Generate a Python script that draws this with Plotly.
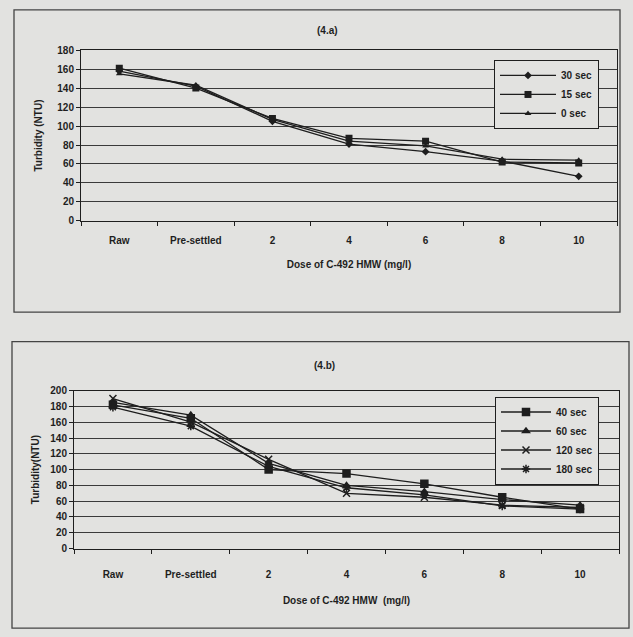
import plotly.graph_objects as go

categories = ["Raw", "Pre-settled", "2", "4", "6", "8", "10"]

# Panel (4.a)
a_30sec = [158, 142, 105, 81, 73, 63, 47]
a_15sec = [161, 140, 108, 87, 84, 62, 61]
a_0sec = [155, 143, 107, 84, 79, 65, 64]

# Panel (4.b)
b_40sec = [182, 165, 100, 95, 82, 65, 50]
b_60sec = [185, 169, 108, 80, 72, 62, 55]
b_120sec = [190, 160, 113, 70, 65, 55, 52]
b_180sec = [179, 155, 104, 77, 68, 54, 50]

W, H = 633, 637
BG = "#e2e2e0"
INK = "#1e1e1e"
FONT = dict(family="Liberation Sans, Arial", size=10, color=INK, weight="bold")
LFONT = dict(family="Liberation Sans, Arial", size=10, color=INK, weight="bold")


def px(x):
    return x / W


def py(y):
    return 1 - y / H


fig = go.Figure()

series_a = [
    ("30 sec", a_30sec, "diamond", 6),
    ("15 sec", a_15sec, "square", 7),
    ("0 sec", a_0sec, "triangle-up", 6),
]
for name, vals, sym, sz in series_a:
    fig.add_trace(go.Scatter(
        x=categories, y=vals, name=name, mode="lines+markers",
        line=dict(color=INK, width=1.3),
        marker=dict(symbol=sym, size=sz, color=INK),
        xaxis="x", yaxis="y", legend="legend"))

series_b = [
    ("40 sec", b_40sec, "square", 7),
    ("60 sec", b_60sec, "triangle-up", 6),
    ("120 sec", b_120sec, "x-thin-open", 7),
    ("180 sec", b_180sec, "asterisk-open", 7),
]
for name, vals, sym, sz in series_b:
    fig.add_trace(go.Scatter(
        x=categories, y=vals, name=name, mode="lines+markers",
        line=dict(color=INK, width=1.3),
        marker=dict(symbol=sym, size=sz, color=INK, line=dict(color=INK, width=1.5)),
        xaxis="x2", yaxis="y2", legend="legend2"))

xcommon = dict(
    type="category", range=[-0.5, 6.5], tickson="boundaries",
    ticks="outside", ticklen=4, tickcolor=INK, showgrid=False,
    showline=True, linecolor=INK, linewidth=1, mirror=True,
    tickfont=FONT, fixedrange=True,
)
ycommon = dict(
    showgrid=True, gridcolor="#3a3a3a", gridwidth=1,
    ticks="outside", ticklen=4, tickcolor=INK,
    showline=True, linecolor=INK, linewidth=1, mirror=True,
    tickfont=FONT, zeroline=False, fixedrange=True,
)

fig.update_layout(
    width=W, height=H,
    margin=dict(l=0, r=0, t=0, b=0),
    paper_bgcolor=BG, plot_bgcolor=BG,
    font=FONT,
    xaxis=dict(domain=[px(81), px(617)], anchor="y", ticklabelstandoff=10,
               title=dict(text="Dose of C-492 HMW (mg/l)", font=FONT, standoff=16),
               **xcommon),
    yaxis=dict(domain=[py(219), py(45)], anchor="x", range=[0, 180], dtick=20,
               title=dict(text="Turbidity (NTU)", font=FONT, standoff=12),
               **ycommon),
    xaxis2=dict(domain=[px(74), px(619)], anchor="y2", ticklabelstandoff=16,
                title=dict(text="Dose of C-492 HMW  (mg/l)", font=FONT, standoff=18),
                **xcommon),
    yaxis2=dict(domain=[py(553), py(392)], anchor="x2", range=[0, 200], dtick=20,
                title=dict(text="Turbidity(NTU)", font=FONT, standoff=8),
                **ycommon),
    legend=dict(x=px(494), y=py(55), xanchor="left", yanchor="top",
                bgcolor=BG, bordercolor=INK, borderwidth=1,
                font=LFONT, tracegroupgap=0, itemwidth=56),
    legend2=dict(x=px(495), y=py(398), xanchor="left", yanchor="top",
                 bgcolor=BG, bordercolor=INK, borderwidth=1,
                 font=LFONT, tracegroupgap=0, itemwidth=50),
    showlegend=True,
    annotations=[
        dict(text="(4.a)", x=px(327), y=py(17), xref="paper", yref="paper",
             showarrow=False, font=FONT),
        dict(text="(4.b)", x=px(324), y=py(366), xref="paper", yref="paper",
             showarrow=False, font=FONT),
    ],
    shapes=[
        dict(type="rect", xref="paper", yref="paper",
             x0=px(14), x1=px(620), y0=py(312), y1=py(4),
             line=dict(color="#444", width=1.3)),
        dict(type="rect", xref="paper", yref="paper",
             x0=px(12), x1=px(629), y0=py(634), y1=py(342),
             line=dict(color="#444", width=1.3)),
    ],
)

fig.write_html(
    "out.html",
    config={"displayModeBar": False},
    post_script="document.body.style.margin='0';document.body.style.background='#e2e2e0';",
)
